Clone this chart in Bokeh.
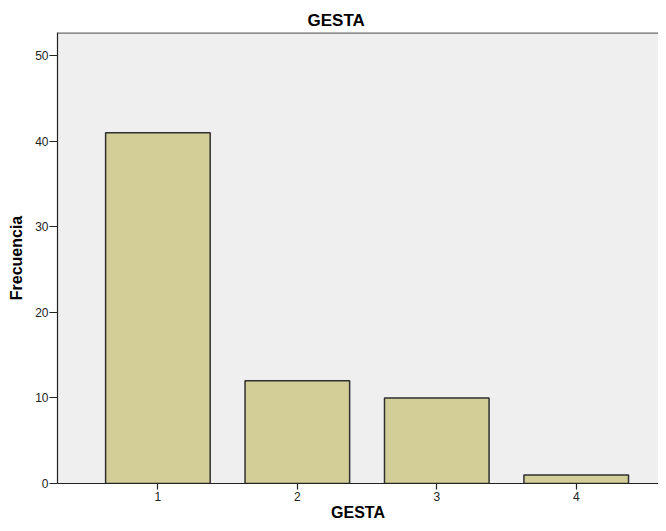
from bokeh.plotting import figure
from bokeh.models import Range1d, FixedTicker, ColumnDataSource, Span
from bokeh.embed import file_html
from bokeh.resources import INLINE

categories = ["1", "2", "3", "4"]
frecuencia = [41, 12, 10, 1]
y_ticks = [0, 10, 20, 30, 40, 50]
y_max = 52.7

positions = [i + 1 for i in range(len(categories))]
src = ColumnDataSource(dict(x=positions, top=frecuencia))

p = figure(width=658, height=523, output_backend="svg", toolbar_location=None,
           x_range=Range1d(0.28, 4.59), y_range=Range1d(0, y_max),
           title="GESTA",
           min_border_left=57, min_border_right=0, min_border_top=32, min_border_bottom=40)

p.background_fill_color = "#EFEFEF"
p.border_fill_color = "white"
p.outline_line_color = None
p.xgrid.visible = False
p.ygrid.visible = False

p.vbar(x="x", top="top", bottom=0, width=0.75, source=src,
       fill_color="#D3CE98", line_color="#2F2F2F", line_width=1.5)

# top frame border (the reference has no visible right border)
p.add_layout(Span(location=y_max, dimension="width", line_color="#6E6E6E", line_width=2.5))

font = "Liberation Sans"
p.title.align = "left"
p.title.offset = 250
p.title.text_font = font
p.title.text_font_size = "17px"
p.title.text_font_style = "bold"
p.title.text_color = "black"
p.title.standoff = 5

p.xaxis.ticker = FixedTicker(ticks=positions)
p.xaxis.major_label_overrides = {pos: c for pos, c in zip(positions, categories)}
p.yaxis.ticker = FixedTicker(ticks=y_ticks)
for ax in (p.xaxis[0], p.yaxis[0]):
    ax.axis_line_color = "#222222"
    ax.axis_line_width = 1.2
    ax.major_tick_line_color = "#222222"
    ax.major_tick_line_width = 1.2
    ax.major_tick_in = 0
    ax.minor_tick_line_color = None
    ax.major_label_text_font = font
    ax.major_label_text_font_size = "12px"
    ax.major_label_text_color = "#222222"
    ax.axis_label_text_font = font
    ax.axis_label_text_font_size = "16px"
    ax.axis_label_text_font_style = "bold"
    ax.axis_label_text_color = "black"

p.yaxis.major_tick_out = 8
p.yaxis.major_label_standoff = 1
p.yaxis.axis_label = "Frecuencia"
p.yaxis.axis_label_standoff = 7
p.xaxis.major_tick_out = 6
p.xaxis.major_label_standoff = 2
p.xaxis.axis_label = "GESTA"
p.xaxis.axis_label_standoff = 0

open("out.html", "w").write(file_html(p, INLINE))
